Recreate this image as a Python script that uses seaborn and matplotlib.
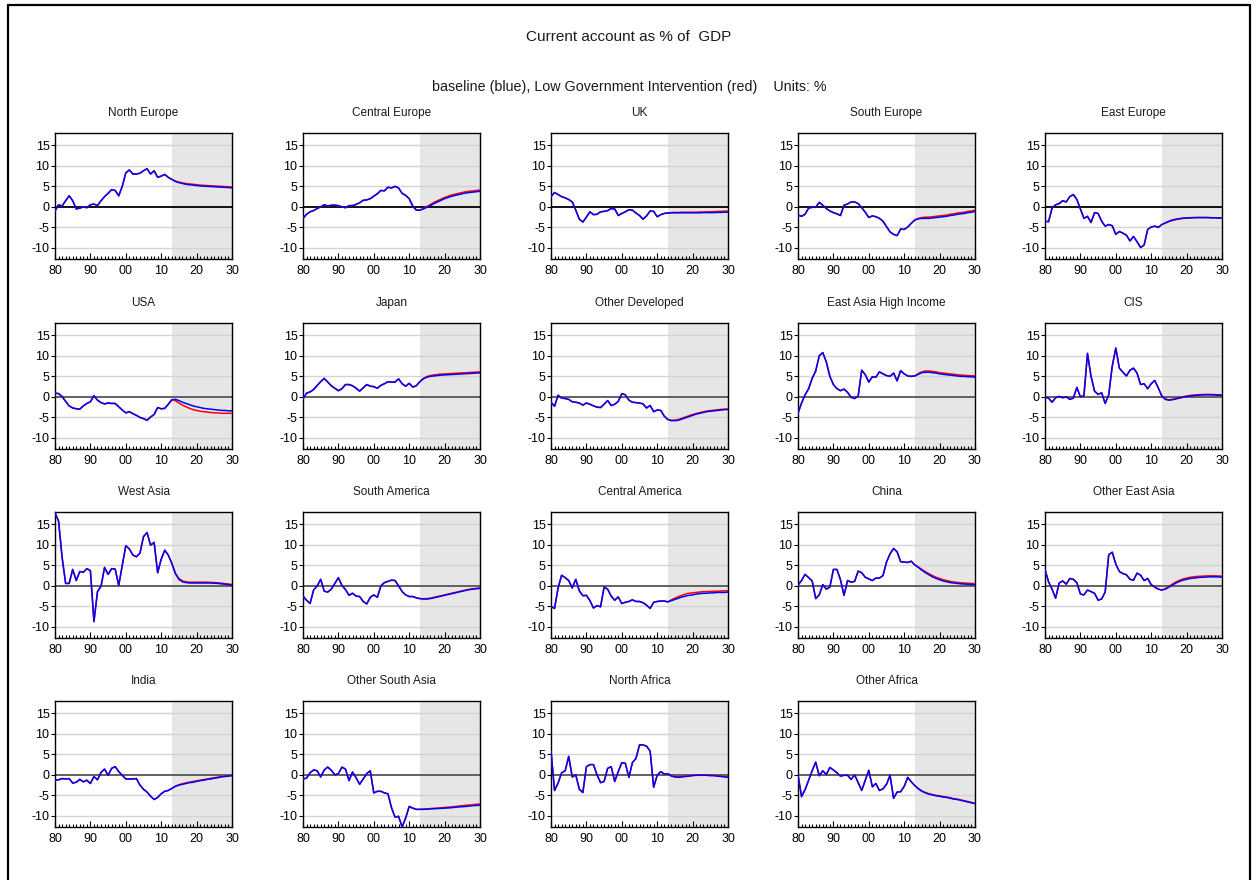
import matplotlib
matplotlib.use("Agg")
import matplotlib.pyplot as plt
from matplotlib.lines import Line2D
from matplotlib.ticker import FixedLocator, MultipleLocator
import pandas as pd
import seaborn as sns

# ---------------------------------------------------------------------------
# Data: current account balance, % of GDP
# history 1980-2012 is shared; projections 2013-2030 per scenario
# ---------------------------------------------------------------------------
hist_years = list(range(1980, 2013))
proj_years = list(range(2013, 2031))

north_europe_hist = [-1.0, 0.5, 0.2, 1.5, 2.7, 1.5, -0.5, -0.3, 0.0, -0.2,
                     0.5, 0.7, 0.3, 1.5, 2.5, 3.3, 4.2, 4.0, 2.7, 5.0,
                     8.3, 9.0, 8.0, 8.0, 8.2, 8.8, 9.3, 8.0, 8.8, 7.2,
                     7.5, 7.9, 7.2]
north_europe_base = [6.7, 6.2, 5.9, 5.7, 5.5, 5.4, 5.3, 5.2, 5.1, 5.05, 5.0, 4.95, 4.9, 4.85, 4.8, 4.75, 4.7, 4.65]
north_europe_low = [6.7, 6.3, 6.05, 5.85, 5.7, 5.6, 5.5, 5.4, 5.3, 5.25, 5.2, 5.15, 5.1, 5.05, 5.0, 4.95, 4.9, 4.85]

central_europe_hist = [-2.8, -1.8, -1.2, -0.9, -0.4, 0.0, 0.5, 0.2, 0.4, 0.4,
                       0.3, 0.0, -0.2, 0.3, 0.3, 0.6, 1.0, 1.6, 1.7, 2.0,
                       2.6, 3.2, 4.0, 3.9, 4.8, 4.6, 5.0, 4.6, 3.3, 2.8,
                       2.0, 0.2, -0.8]
central_europe_base = [-0.8, -0.5, -0.1, 0.3, 0.8, 1.2, 1.6, 2.0, 2.3, 2.6, 2.8, 3.0, 3.2, 3.4, 3.5, 3.6, 3.7, 3.8]
central_europe_low = [-0.8, -0.4, 0.1, 0.6, 1.1, 1.5, 1.9, 2.3, 2.6, 2.9, 3.1, 3.3, 3.5, 3.7, 3.8, 3.9, 4.0, 4.1]

uk_hist = [2.5, 3.5, 3.0, 2.5, 2.2, 1.8, 1.2, -0.8, -3.0, -3.7,
           -2.5, -1.2, -1.9, -1.8, -1.2, -1.1, -0.9, -0.4, -0.5, -2.1,
           -1.6, -1.2, -0.7, -0.8, -1.5, -2.1, -3.0, -2.2, -1.0, -1.1,
           -2.4, -1.9, -1.6]
uk_base = [-1.5, -1.45, -1.45, -1.45, -1.45, -1.45, -1.45, -1.45, -1.45, -1.45, -1.4, -1.4, -1.4, -1.4, -1.35, -1.35, -1.3, -1.3]
uk_low = [-1.5, -1.4, -1.35, -1.35, -1.3, -1.3, -1.3, -1.3, -1.3, -1.25, -1.25, -1.2, -1.2, -1.15, -1.1, -1.1, -1.05, -1.0]

south_europe_hist = [-2.0, -2.3, -1.8, -0.3, -0.1, -0.1, 1.1, 0.4, -0.4, -1.0,
                     -1.4, -1.7, -2.1, 0.4, 0.7, 1.2, 1.2, 0.8, -0.2, -1.3,
                     -2.6, -2.2, -2.4, -2.8, -3.5, -4.8, -6.1, -6.7, -7.0, -5.4,
                     -5.5, -4.9, -4.0]
south_europe_base = [-3.2, -2.9, -2.8, -2.8, -2.8, -2.7, -2.6, -2.5, -2.4, -2.3, -2.1, -2.0, -1.8, -1.7, -1.6, -1.4, -1.3, -1.1]
south_europe_low = [-3.2, -2.8, -2.6, -2.5, -2.5, -2.4, -2.3, -2.2, -2.1, -2.0, -1.8, -1.7, -1.5, -1.4, -1.3, -1.1, -1.0, -0.8]

east_europe_hist = [-3.5, -3.6, -0.3, 0.5, 0.8, 1.5, 1.2, 2.5, 3.0, 1.8,
                    -0.5, -2.8, -2.3, -3.8, -1.4, -1.6, -3.5, -4.7, -4.3, -4.6,
                    -6.7, -6.0, -6.4, -6.9, -8.3, -7.2, -8.5, -9.9, -9.3, -5.5,
                    -4.9, -4.7, -5.0]
east_europe_base = [-4.3, -3.9, -3.5, -3.2, -3.0, -2.85, -2.75, -2.7, -2.65, -2.6, -2.6, -2.6, -2.6, -2.6, -2.65, -2.65, -2.7, -2.7]
east_europe_low = [-4.3, -3.95, -3.6, -3.3, -3.1, -2.95, -2.8, -2.75, -2.7, -2.65, -2.6, -2.6, -2.6, -2.6, -2.65, -2.65, -2.7, -2.7]

usa_hist = [0.9, 0.8, 0.1, -1.1, -2.2, -2.7, -2.9, -3.0, -2.2, -1.6,
            -1.2, 0.3, -0.8, -1.4, -1.7, -1.5, -1.6, -1.6, -2.4, -3.2,
            -3.9, -3.6, -4.1, -4.5, -5.0, -5.3, -5.7, -4.9, -4.3, -2.6,
            -2.9, -2.8, -1.8]
usa_base = [-0.7, -0.6, -0.9, -1.3, -1.6, -1.9, -2.2, -2.4, -2.6, -2.8, -2.9, -3.0, -3.1, -3.2, -3.3, -3.3, -3.4, -3.4]
usa_low = [-0.7, -0.9, -1.5, -2.0, -2.4, -2.8, -3.1, -3.3, -3.5, -3.6, -3.7, -3.8, -3.9, -3.9, -4.0, -4.0, -4.0, -4.0]

japan_hist = [-0.5, 0.9, 1.2, 1.8, 2.8, 3.7, 4.5, 3.6, 2.7, 2.1,
              1.5, 2.0, 3.0, 3.0, 2.7, 2.1, 1.4, 2.2, 3.0, 2.6,
              2.5, 2.1, 2.8, 3.2, 3.7, 3.6, 3.6, 4.4, 3.2, 2.6,
              3.3, 2.4, 2.7]
japan_base = [3.7, 4.4, 4.8, 5.0, 5.1, 5.2, 5.3, 5.35, 5.4, 5.45, 5.5, 5.55, 5.6, 5.65, 5.7, 5.75, 5.8, 5.85]
japan_low = [3.7, 4.5, 4.95, 5.2, 5.35, 5.45, 5.55, 5.6, 5.65, 5.7, 5.75, 5.8, 5.85, 5.9, 5.95, 6.0, 6.05, 6.1]

other_developed_hist = [-1.3, -2.3, 0.4, -0.3, -0.4, -0.6, -1.2, -1.3, -1.5, -2.0,
                        -1.5, -1.8, -2.2, -2.5, -2.6, -1.8, -0.9, -2.1, -1.8, -1.1,
                        0.8, 0.5, -0.8, -1.3, -1.4, -1.5, -1.7, -2.7, -2.1, -3.6,
                        -3.2, -3.3, -4.7]
other_developed_base = [-5.5, -5.8, -5.8, -5.7, -5.4, -5.1, -4.8, -4.5, -4.2, -4.0, -3.8, -3.6, -3.5, -3.4, -3.3, -3.2, -3.1, -3.1]
other_developed_low = [-5.5, -5.7, -5.65, -5.5, -5.2, -4.9, -4.6, -4.3, -4.05, -3.85, -3.65, -3.45, -3.35, -3.25, -3.15, -3.05, -3.0, -2.95]

east_asia_hi_hist = [-4.0, -1.5, 0.5, 2.0, 4.5, 6.3, 10.0, 10.8, 8.5, 5.0,
                     3.0, 2.0, 1.5, 1.9, 1.1, -0.1, -0.4, 0.2, 6.5, 5.4,
                     3.6, 4.9, 4.8, 6.1, 5.6, 5.2, 5.0, 5.8, 3.9, 6.4,
                     5.6, 5.1, 5.0]
east_asia_hi_base = [5.1, 5.5, 5.9, 6.0, 6.0, 5.9, 5.8, 5.6, 5.5, 5.4, 5.3, 5.2, 5.1, 5.0, 5.0, 4.9, 4.9, 4.8]
east_asia_hi_low = [5.1, 5.7, 6.1, 6.3, 6.3, 6.2, 6.1, 5.9, 5.8, 5.7, 5.6, 5.5, 5.4, 5.3, 5.25, 5.2, 5.15, 5.1]

cis_hist = [-0.1, -0.3, -1.3, -0.2, 0.1, -0.2, 0.0, -0.6, -0.3, 2.3,
            0.0, 0.3, 10.6, 5.0, 1.4, 0.6, 1.0, -1.6, 0.5, 7.5,
            11.9, 7.0, 6.0, 5.1, 6.5, 7.0, 5.8, 3.0, 3.2, 2.0,
            3.2, 4.0, 2.2]
cis_base = [0.2, -0.6, -0.8, -0.7, -0.5, -0.3, -0.1, 0.1, 0.2, 0.3, 0.4, 0.45, 0.5, 0.5, 0.5, 0.45, 0.4, 0.4]
cis_low = [0.2, -0.5, -0.7, -0.6, -0.4, -0.15, 0.05, 0.2, 0.35, 0.45, 0.5, 0.55, 0.6, 0.6, 0.6, 0.55, 0.5, 0.5]

west_asia_hist = [17.8, 15.8, 7.0, 0.6, 0.6, 4.0, 1.3, 3.5, 3.3, 4.2,
                  3.7, -8.7, -1.4, -0.1, 4.5, 2.8, 4.2, 4.1, 0.1, 5.0,
                  9.8, 9.0, 7.5, 7.1, 8.0, 12.0, 13.0, 9.9, 10.6, 3.2,
                  6.5, 8.7, 7.5]
west_asia_base = [5.5, 3.0, 1.6, 1.0, 0.8, 0.7, 0.7, 0.7, 0.7, 0.7, 0.7, 0.7, 0.65, 0.6, 0.5, 0.4, 0.3, 0.2]
west_asia_low = [5.5, 3.1, 1.8, 1.2, 1.0, 0.9, 0.9, 0.9, 0.9, 0.9, 0.9, 0.85, 0.8, 0.75, 0.65, 0.55, 0.45, 0.35]

south_america_hist = [-2.5, -3.5, -4.3, -1.0, 0.0, 1.6, -1.3, -1.5, -0.8, 0.6,
                      2.0, 0.1, -0.9, -2.3, -1.8, -2.5, -2.6, -3.8, -4.4, -2.8,
                      -2.2, -2.8, 0.0, 0.8, 1.1, 1.4, 1.3, 0.0, -1.4, -2.2,
                      -2.6, -2.6, -2.9]
south_america_base = [-3.1, -3.2, -3.2, -3.1, -2.9, -2.7, -2.5, -2.3, -2.1, -1.9, -1.7, -1.5, -1.3, -1.1, -0.9, -0.8, -0.7, -0.6]
south_america_low = [-3.1, -3.15, -3.1, -3.0, -2.8, -2.6, -2.4, -2.2, -2.0, -1.8, -1.6, -1.4, -1.2, -1.0, -0.85, -0.7, -0.6, -0.5]

central_america_hist = [-5.0, -5.5, -0.5, 2.6, 2.0, 1.3, -0.5, 1.6, -1.2, -2.4,
                        -2.3, -3.6, -5.4, -4.8, -5.1, -0.3, -0.8, -2.5, -3.5, -2.7,
                        -4.3, -4.0, -3.8, -3.4, -3.8, -3.8, -4.1, -4.7, -5.5, -4.0,
                        -3.8, -3.7, -3.7]
central_america_base = [-3.9, -3.6, -3.3, -3.0, -2.7, -2.5, -2.3, -2.2, -2.0, -1.9, -1.8, -1.8, -1.7, -1.7, -1.6, -1.6, -1.6, -1.5]
central_america_low = [-3.9, -3.4, -3.0, -2.6, -2.3, -2.0, -1.8, -1.7, -1.6, -1.5, -1.4, -1.4, -1.35, -1.3, -1.3, -1.25, -1.2, -1.2]

china_hist = [0.2, 1.3, 2.8, 2.0, 1.2, -3.1, -2.2, 0.3, -0.8, -0.3,
              4.0, 4.0, 1.5, -2.3, 1.3, 0.9, 1.1, 3.6, 3.2, 2.1,
              1.7, 1.3, 1.9, 1.9, 2.5, 5.8, 7.8, 9.1, 8.3, 5.9,
              5.8, 5.7, 6.0]
china_base = [5.1, 4.5, 3.8, 3.2, 2.7, 2.2, 1.8, 1.5, 1.2, 1.0, 0.8, 0.7, 0.6, 0.5, 0.45, 0.4, 0.35, 0.3]
china_low = [5.1, 4.6, 4.0, 3.45, 2.95, 2.5, 2.1, 1.8, 1.5, 1.3, 1.1, 0.95, 0.85, 0.75, 0.7, 0.65, 0.6, 0.55]

other_east_asia_hist = [4.0, 1.0, -0.8, -3.0, 0.7, 1.2, 0.4, 1.8, 1.6, 0.8,
                        -2.0, -2.2, -1.0, -1.4, -1.8, -3.5, -3.2, -1.5, 7.6, 8.2,
                        5.3, 3.5, 3.0, 2.7, 1.6, 1.4, 3.1, 2.6, 1.3, 1.8,
                        0.3, -0.3, -0.8]
other_east_asia_base = [-1.0, -0.8, -0.3, 0.2, 0.7, 1.1, 1.4, 1.6, 1.8, 1.9, 2.0, 2.1, 2.1, 2.2, 2.2, 2.2, 2.2, 2.1]
other_east_asia_low = [-1.0, -0.7, -0.1, 0.45, 0.95, 1.35, 1.7, 1.9, 2.1, 2.2, 2.3, 2.35, 2.4, 2.45, 2.45, 2.45, 2.4, 2.4]

india_hist = [-1.3, -1.2, -0.9, -1.0, -0.9, -2.0, -1.8, -1.1, -1.7, -1.3,
              -2.1, -0.4, -1.2, 0.6, 1.4, -0.1, 1.6, 2.0, 0.8, -0.1,
              -1.0, -1.0, -1.0, -0.9, -2.5, -3.5, -4.2, -5.2, -6.0, -5.5,
              -4.6, -4.0, -3.8]
india_base = [-3.3, -2.8, -2.5, -2.3, -2.1, -1.9, -1.8, -1.6, -1.4, -1.3, -1.1, -1.0, -0.8, -0.7, -0.5, -0.4, -0.3, -0.2]
india_low = [-3.3, -2.75, -2.4, -2.15, -1.95, -1.75, -1.6, -1.45, -1.3, -1.15, -1.0, -0.85, -0.7, -0.55, -0.4, -0.3, -0.2, -0.05]

other_south_asia_hist = [-1.0, -0.8, 0.5, 1.2, 1.0, -0.5, 1.2, 1.9, 1.1, 0.0,
                         0.3, 1.9, 1.4, -1.4, 0.7, -0.7, -2.3, -1.0, 0.3, 1.0,
                         -4.4, -4.0, -4.0, -4.4, -4.6, -8.0, -10.3, -10.1, -12.7, -10.5,
                         -7.7, -8.1, -8.4]
other_south_asia_base = [-8.4, -8.4, -8.35, -8.3, -8.25, -8.2, -8.15, -8.1, -8.05, -8.0, -7.9, -7.8, -7.75, -7.7, -7.6, -7.5, -7.45, -7.4]
other_south_asia_low = [-8.4, -8.35, -8.3, -8.2, -8.15, -8.1, -8.0, -7.95, -7.85, -7.8, -7.7, -7.6, -7.5, -7.4, -7.35, -7.25, -7.15, -7.1]

north_africa_hist = [5.8, -3.8, -2.0, 0.5, 1.0, 4.5, -0.5, 0.0, -3.5, -4.3,
                     2.0, 2.5, 2.5, 0.0, -1.9, -1.6, 1.6, 2.0, -1.6, 0.8,
                     3.0, 2.8, -0.6, 3.0, 4.0, 7.3, 7.3, 7.0, 5.8, -3.0,
                     -0.1, 0.8, 0.2]
north_africa_base = [0.3, -0.3, -0.5, -0.6, -0.5, -0.4, -0.3, -0.2, -0.1, -0.1, -0.1, -0.1, -0.2, -0.2, -0.3, -0.4, -0.5, -0.6]
north_africa_low = [0.3, -0.25, -0.45, -0.5, -0.4, -0.3, -0.2, -0.1, 0.0, 0.0, 0.0, 0.0, -0.1, -0.1, -0.2, -0.3, -0.4, -0.5]

other_africa_hist = [0.0, -5.3, -3.6, -1.3, 1.0, 3.1, -0.2, 1.0, 0.1, 1.8,
                     1.2, 0.5, -0.3, -0.1, -0.1, -1.1, 0.0, -1.9, -3.8, -1.3,
                     1.1, -2.9, -2.1, -3.8, -3.4, -2.3, -0.1, -5.7, -4.2, -4.1,
                     -2.8, -0.6, -1.7]
other_africa_base = [-2.6, -3.4, -4.0, -4.4, -4.7, -4.9, -5.1, -5.2, -5.4, -5.5, -5.7, -5.9, -6.0, -6.2, -6.4, -6.6, -6.8, -7.0]
other_africa_low = [-2.6, -3.35, -3.9, -4.3, -4.6, -4.8, -5.0, -5.1, -5.3, -5.4, -5.6, -5.8, -5.9, -6.1, -6.3, -6.5, -6.7, -6.95]

regions = [
    ("North Europe", north_europe_hist, north_europe_base, north_europe_low),
    ("Central Europe", central_europe_hist, central_europe_base, central_europe_low),
    ("UK", uk_hist, uk_base, uk_low),
    ("South Europe", south_europe_hist, south_europe_base, south_europe_low),
    ("East Europe", east_europe_hist, east_europe_base, east_europe_low),
    ("USA", usa_hist, usa_base, usa_low),
    ("Japan", japan_hist, japan_base, japan_low),
    ("Other Developed", other_developed_hist, other_developed_base, other_developed_low),
    ("East Asia High Income", east_asia_hi_hist, east_asia_hi_base, east_asia_hi_low),
    ("CIS", cis_hist, cis_base, cis_low),
    ("West Asia", west_asia_hist, west_asia_base, west_asia_low),
    ("South America", south_america_hist, south_america_base, south_america_low),
    ("Central America", central_america_hist, central_america_base, central_america_low),
    ("China", china_hist, china_base, china_low),
    ("Other East Asia", other_east_asia_hist, other_east_asia_base, other_east_asia_low),
    ("India", india_hist, india_base, india_low),
    ("Other South Asia", other_south_asia_hist, other_south_asia_base, other_south_asia_low),
    ("North Africa", north_africa_hist, north_africa_base, north_africa_low),
    ("Other Africa", other_africa_hist, other_africa_base, other_africa_low),
]

xtick_years = [1980, 1990, 2000, 2010, 2020, 2030]
xtick_labels = ["80", "90", "00", "10", "20", "30"]
ytick_values = [-10, -5, 0, 5, 10, 15]
ytick_labels = ["-10", "-5", "0", "5", "10", "15"]

title_text = "Current account as % of  GDP"
subtitle_text = "baseline (blue), Low Government Intervention (red)    Units: %"

# ---------------------------------------------------------------------------
# Styling
# ---------------------------------------------------------------------------
sns.set_style("white")
plt.rcParams["font.family"] = ["Liberation Sans", "DejaVu Sans"]
plt.rcParams["text.color"] = "#1a1a1a"

palette = {"Low Government Intervention": "#ff0000", "baseline": "#0000ff"}
scenario_order = ["Low Government Intervention", "baseline"]

W, H = 1258, 880
fig = plt.figure(figsize=(W / 100, H / 100), dpi=100)

# outer frame
for xs, ys in [((8, 8), (5, 890)), ((8, 1250), (5, 5)), ((1250, 1250), (5, 890))]:
    fig.add_artist(Line2D([x / W for x in xs], [1 - y / H for y in ys],
                          color="black", lw=1.6, transform=fig.transFigure))

fig.text(0.5, 1 - 37 / H, title_text, ha="center", va="center", fontsize=11)
fig.text(0.5, 1 - 87 / H, subtitle_text, ha="center", va="center", fontsize=10.3)

col_left = [55, 303, 551, 798, 1045]
row_top = [133, 323, 512, 701]
ax_w, ax_h = 177, 126

for i, (name, hist, base, low) in enumerate(regions):
    r, c = divmod(i, 5)
    left = col_left[c] / W
    bottom = 1 - (row_top[r] + ax_h) / H
    ax = fig.add_axes([left, bottom, ax_w / W, ax_h / H])

    df = pd.DataFrame({
        "year": hist_years + proj_years + hist_years + proj_years,
        "value": hist + low + hist + base,
        "scenario": ["Low Government Intervention"] * 51 + ["baseline"] * 51,
    })

    ax.axvspan(2013, 2030, color="#e6e6e6", lw=0, zorder=0)
    for yv in [-10, -5, 5, 10, 15]:
        ax.axhline(yv, color="#d4d4d4", lw=1.0, zorder=1)
    ax.axhline(0, color="black" if r == 0 else "#555555", lw=1.3, zorder=1)

    sns.lineplot(data=df, x="year", y="value", hue="scenario",
                 hue_order=scenario_order, palette=palette, lw=1.1,
                 legend=False, ax=ax, zorder=3)

    ax.set_xlim(1980, 2030)
    ax.set_ylim(-12.7, 18.0)
    ax.xaxis.set_major_locator(FixedLocator(xtick_years))
    ax.set_xticklabels(xtick_labels)
    ax.xaxis.set_minor_locator(MultipleLocator(1))
    ax.yaxis.set_major_locator(FixedLocator(ytick_values))
    ax.set_yticklabels(ytick_labels)
    ax.tick_params(axis="x", which="major", direction="in", length=4, width=0.8,
                   labelsize=9, pad=4.5, colors="black")
    ax.tick_params(axis="x", which="minor", direction="in", length=2.5, width=0.8,
                   colors="black")
    ax.tick_params(axis="y", which="major", direction="out", length=3, width=0.8,
                   labelsize=9, pad=1, colors="black")
    ax.tick_params(left=True, bottom=True, which="both")
    ax.set_xlabel("")
    ax.set_ylabel("")
    for s in ax.spines.values():
        s.set_color("black")
        s.set_linewidth(1.0)
    ax.text(0.5, 1 + 20 / ax_h, name, transform=ax.transAxes,
            ha="center", va="center", fontsize=8.5)

fig.savefig("out.png", dpi=100)
